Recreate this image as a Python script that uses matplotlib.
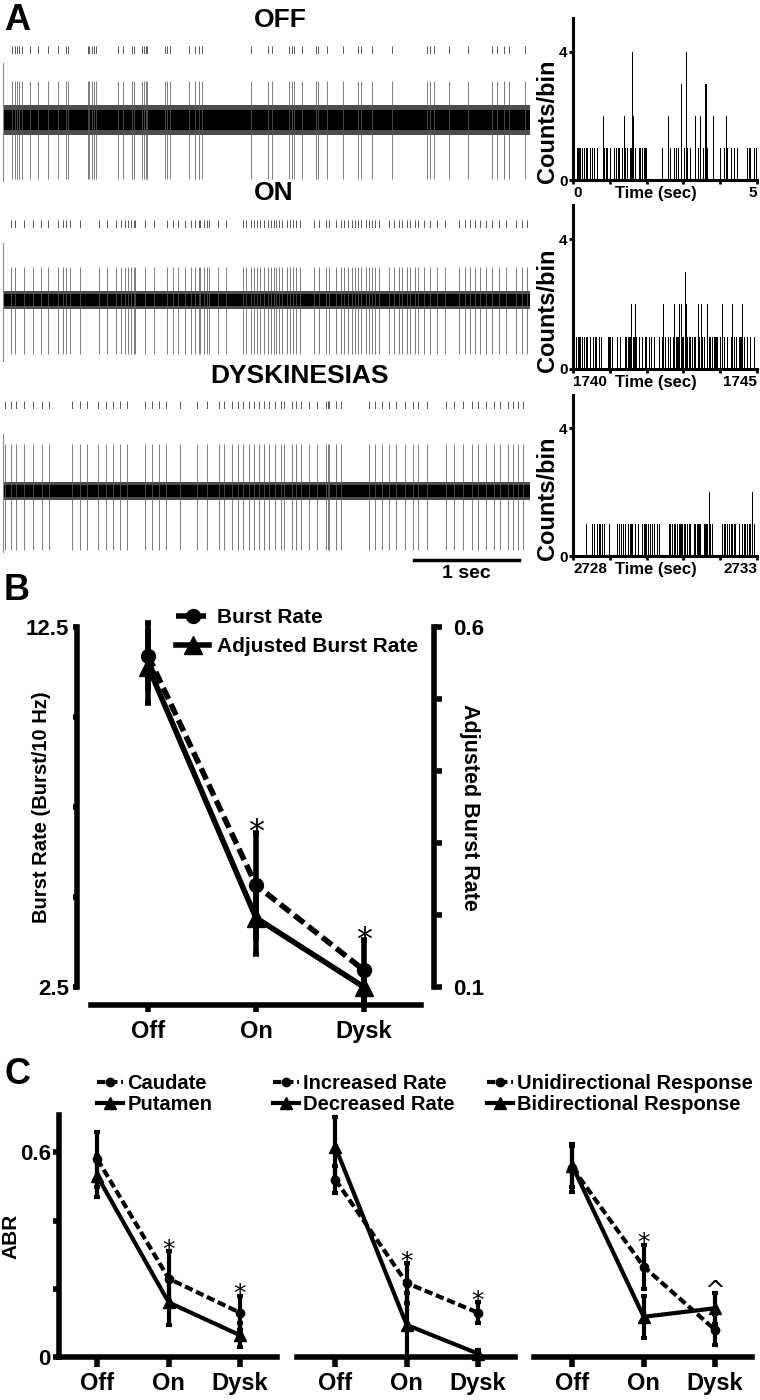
import matplotlib
matplotlib.use('Agg')
import matplotlib.pyplot as plt
import numpy as np
from matplotlib.lines import Line2D

# ---------------- panel A ----------------
# spike times (s)
off_spikes = [0.09, 0.11, 0.13, 0.15, 0.18, 0.26, 0.33, 0.43, 0.52, 0.60, 0.62, 0.81, 0.82, 0.84,
              0.86, 0.88, 1.09, 1.14, 1.22, 1.24, 1.32, 1.34, 1.36, 1.37, 1.54, 1.56, 1.58, 1.76,
              1.82, 1.86, 1.89, 2.35, 2.51, 2.55, 2.71, 2.74, 2.76, 2.84, 2.97, 2.99, 3.07, 3.23,
              3.37, 3.40, 3.50, 3.69, 4.02, 4.05, 4.09, 4.23, 4.41, 4.64, 4.69, 4.75, 4.80, 4.95]
on_spikes = [0.08, 0.11, 0.20, 0.28, 0.36, 0.43, 0.52, 0.57, 0.60, 0.64, 0.73, 0.91, 0.99, 1.07,
             1.12, 1.16, 1.19, 1.21, 1.24, 1.25, 1.35, 1.43, 1.56, 1.61, 1.66, 1.73, 1.78, 1.82,
             1.86, 1.87, 1.91, 1.94, 1.95, 2.04, 2.12, 2.28, 2.31, 2.35, 2.38, 2.41, 2.44, 2.48,
             2.51, 2.54, 2.57, 2.59, 2.62, 2.65, 2.69, 2.72, 2.75, 2.78, 2.82, 2.95, 3.00, 3.06,
             3.09, 3.16, 3.21, 3.24, 3.27, 3.31, 3.34, 3.37, 3.40, 3.44, 3.47, 3.50, 3.53, 3.57,
             3.66, 3.71, 3.76, 3.79, 3.83, 3.86, 3.91, 3.94, 3.99, 4.05, 4.12, 4.19, 4.33, 4.38,
             4.43, 4.48, 4.53, 4.58, 4.64, 4.71, 4.77, 4.87, 4.92, 4.97]
dysk_spikes = [0.02, 0.08, 0.12, 0.20, 0.28, 0.37, 0.44, 0.65, 0.73, 0.80, 0.90, 0.98, 1.04, 1.11,
               1.18, 1.35, 1.41, 1.48, 1.55, 1.68, 1.84, 1.94, 2.05, 2.10, 2.17, 2.23, 2.28, 2.33,
               2.38, 2.43, 2.48, 2.52, 2.58, 2.64, 2.67, 2.74, 2.78, 2.83, 2.90, 2.98, 3.06, 3.08,
               3.09, 3.16, 3.21, 3.47, 3.53, 3.60, 3.66, 3.73, 3.81, 3.89, 3.94, 4.02, 4.20, 4.28,
               4.36, 4.45, 4.51, 4.58, 4.66, 4.72, 4.79, 4.84, 4.89, 4.93]

# PSTH bins (s from window start), grouped by count per bin
off_t0 = 0
off_hist_1 = [0.11, 0.14, 0.17, 0.20, 0.24, 0.29, 0.34, 0.38, 0.45, 0.52, 0.58, 0.65, 0.85, 0.89,
              0.91, 1.00, 1.12, 1.17, 1.21, 1.26, 1.33, 1.42, 1.47, 1.56, 1.69, 1.78, 1.83, 1.88,
              1.92, 1.97, 2.42, 2.64, 2.75, 2.80, 2.84, 3.01, 3.10, 3.19, 3.39, 3.53, 3.64, 4.00,
              4.11, 4.18, 4.28, 4.37, 4.46, 4.73, 4.77, 4.82, 4.91, 4.98]
off_hist_2 = [0.82, 1.38, 1.63, 2.57, 3.32, 3.46, 3.80, 4.15]
off_hist_3 = [2.93, 3.60]
off_hist_4 = [1.60, 3.06]

on_t0 = 1740
on_hist_1 = [0.09, 0.13, 0.16, 0.20, 0.24, 0.29, 0.34, 0.38, 0.47, 0.54, 0.61, 0.70, 0.76, 0.94,
             0.98, 1.01, 1.05, 1.20, 1.27, 1.41, 1.45, 1.49, 1.52, 1.56, 1.63, 1.67, 1.72, 1.78,
             1.88, 1.97, 2.06, 2.12, 2.21, 2.33, 2.42, 2.51, 2.57, 2.64, 2.72, 2.79, 2.83, 2.86,
             2.96, 2.99, 3.10, 3.14, 3.19, 3.23, 3.28, 3.32, 3.41, 3.51, 3.55, 3.69, 3.73, 3.78,
             3.82, 3.87, 3.91, 4.00, 4.09, 4.18, 4.28, 4.38, 4.44, 4.50, 4.55, 4.64, 4.73, 4.82, 4.91]
on_hist_2 = [1.58, 1.69, 2.45, 2.74, 2.89, 2.93, 3.07, 3.39, 3.48, 3.64, 4.05, 4.32, 4.59]
on_hist_3 = [3.03]

dysk_t0 = 2728
dysk_hist_1 = [0.36, 0.52, 0.58, 0.65, 0.72, 0.79, 0.85, 0.97, 1.20, 1.24, 1.30, 1.36, 1.42, 1.49,
               1.56, 1.60, 1.69, 1.76, 1.88, 1.92, 1.97, 2.03, 2.10, 2.15, 2.21, 2.28, 2.33, 2.60,
               2.64, 2.69, 2.74, 2.78, 2.83, 2.87, 2.92, 2.96, 3.01, 3.05, 3.10, 3.14, 3.19, 3.28,
               3.32, 3.37, 3.41, 3.46, 3.55, 3.60, 3.64, 3.73, 3.78, 4.05, 4.09, 4.14, 4.18, 4.23,
               4.28, 4.32, 4.37, 4.41, 4.50, 4.59, 4.64, 4.68, 4.73, 4.77, 4.82, 4.91]
dysk_hist_2 = [3.69, 4.86]

# ---------------- panel B ----------------
conditions = ['Off', 'On', 'Dysk']
burst_rate = [11.7, 5.33, 2.97]
burst_rate_sem = [0.9, 1.45, 0.83]
adj_burst_rate = [0.545, 0.196, 0.1]
adj_burst_rate_sem = [0.05, 0.05, 0.012]
b_marks = ['', '*', '*']

# ---------------- panel C (ABR) ----------------
caudate = [0.58, 0.23, 0.13]
caudate_sem = [0.08, 0.08, 0.05]
putamen = [0.53, 0.16, 0.064]
putamen_sem = [0.06, 0.066, 0.035]
increased = [0.52, 0.217, 0.13]
increased_sem = [0.04, 0.058, 0.03]
decreased = [0.615, 0.094, 0.01]
decreased_sem = [0.09, 0.094, 0.01]
unidir = [0.555, 0.265, 0.08]
unidir_sem = [0.07, 0.065, 0.045]
bidir = [0.56, 0.118, 0.143]
bidir_sem = [0.06, 0.062, 0.045]
c_marks = [['', '*', '*'], ['', '*', '*'], ['', '*', '^']]

plt.rcParams['font.family'] = ['Liberation Sans', 'DejaVu Sans']
plt.rcParams['font.weight'] = 'bold'
plt.rcParams['axes.labelweight'] = 'bold'

W, H = 760, 1400
fig = plt.figure(figsize=(W / 100, H / 100), dpi=100)


def add_ax(x0, y0, x1, y1):
    return fig.add_axes([x0 / W, 1 - y1 / H, (x1 - x0) / W, (y1 - y0) / H])


def ftext(x, y, s, size, **kw):
    fig.text(x / W, 1 - y / H, s, fontsize=size, ha='center', va='center', **kw)


def star(ax, x, y, m, size, drop):
    # significance mark sitting just above an error bar
    ax.annotate(m, (x, y), xytext=(0, -drop), textcoords='offset points', ha='center',
                va='baseline', fontsize=size, fontweight='normal', family='DejaVu Sans',
                annotation_clip=False)


# panel letters
for letter, y in [('A', 20), ('B', 590), ('C', 1075)]:
    ftext(17, y, letter, 26)

# ---- A: traces, rasters, PSTHs
rows = [('OFF', 280, 20, 50, (60, 180), 0.65, 0.98, 0.17, off_spikes),
        ('ON', 274, 193, 224, (240, 360), 0.55, 0.9, 0.1, on_spikes),
        ('DYSKINESIAS', 300, 376, 405, (431, 551), 0.78, 0.98, 0.1, dysk_spikes)]
for title, tx, ty, ry, box, up, down, band, spikes in rows:
    ftext(tx, ty, title, 19)
    rax = add_ax(3, ry - 4, 530, ry + 4)
    rax.set_xlim(0, 5)
    rax.set_ylim(0, 1)
    rax.axis('off')
    rax.vlines(spikes, 0, 1, color='0.35', lw=0.7)

    tax = add_ax(3, box[0], 530, box[1])
    tax.set_xlim(0, 5)
    tax.set_ylim(-1, 1)
    tax.axis('off')
    tax.fill_between([0, 5], -band * 1.45, band * 1.45, color='0.3', lw=0)
    tax.fill_between([0, 5], -band, band, color='black', lw=0)
    tax.vlines(spikes, -down, up, color='0.35', lw=0.55)
    tax.plot([0, 0], [-1.02, 0.95], color='0.55', lw=0.8, clip_on=False)

# 1 sec scale bar under the last trace
tax.plot([3.9, 4.9], [-1.15, -1.15], color='black', lw=2.5, clip_on=False)
tax.text(4.4, -1.38, '1 sec', fontsize=14, ha='center', va='center')

hists = [((18, 180), off_t0, [(1, off_hist_1), (2, off_hist_2), (3, off_hist_3), (4, off_hist_4)]),
         ((205, 369), on_t0, [(1, on_hist_1), (2, on_hist_2), (3, on_hist_3)]),
         ((395, 556), dysk_t0, [(1, dysk_hist_1), (2, dysk_hist_2)])]
for box, t0, groups in hists:
    hax = add_ax(573, box[0], 757, box[1])
    for n, times in groups:
        hax.bar(t0 + np.array(times), n, width=0.03, align='edge', color='black', lw=0)
    hax.set_xlim(t0, t0 + 5)
    hax.set_ylim(0, 5.05)
    for s in ['top', 'right']:
        hax.spines[s].set_visible(False)
    for s in ['left', 'bottom']:
        hax.spines[s].set_linewidth(2.2)
    hax.set_yticks([0, 4])
    hax.set_xticks(t0 + np.arange(6), [str(t0), '', '', '', '', str(t0 + 5)])
    hax.tick_params(axis='both', length=3, width=2, labelsize=11, pad=1)
    xt = hax.get_xticklabels()
    xt[0].set_ha('left')
    xt[-1].set_ha('right')
    hax.set_ylabel('Counts/bin', fontsize=17)
    hax.yaxis.set_label_coords(-0.075, 0.36)
    hax.text(0.45, -0.085, 'Time (sec)', transform=hax.transAxes, fontsize=12,
             ha='center', va='center')

# ---- B: burst rate / adjusted burst rate
x = np.arange(len(conditions))
XL = (-0.53, 2.53)
ax_adj = add_ax(91, 627, 421, 987)
ax_br = add_ax(91, 627, 421, 987)
ax_br.patch.set_visible(False)

ax_adj.errorbar(x, adj_burst_rate, yerr=adj_burst_rate_sem, color='black', lw=4, marker='^',
                ms=13, elinewidth=4, capsize=2.5, capthick=4, clip_on=False)
ax_adj.set_xlim(XL)
ax_adj.set_ylim(0.1, 0.6)
for s in ['top', 'left', 'bottom']:
    ax_adj.spines[s].set_visible(False)
ax_adj.spines['right'].set_position(('outward', 9))
ax_adj.spines['right'].set_linewidth(4)
ax_adj.yaxis.tick_right()
ax_adj.set_xticks([])
ax_adj.set_yticks([0.1, 0.2, 0.3, 0.4, 0.5, 0.6], ['0.1', '', '', '', '', '0.6'])
ax_adj.tick_params(axis='y', length=6, width=4, labelsize=16, pad=8)
ax_adj.set_ylabel('Adjusted Burst Rate', fontsize=15.5, rotation=270, va='center')
ax_adj.yaxis.set_label_position('right')
ax_adj.yaxis.set_label_coords(1.18, 0.5)

ax_br.errorbar(x, burst_rate, yerr=burst_rate_sem, color='black', lw=4, ls=(0, (2.2, 1.0)),
               marker='o', ms=10, elinewidth=4, capsize=2.5, capthick=4, clip_on=False)
ax_br.set_xlim(XL)
ax_br.set_ylim(2.5, 12.5)
for s in ['top', 'right']:
    ax_br.spines[s].set_visible(False)
ax_br.spines['left'].set_position(('outward', 10))
ax_br.spines['bottom'].set_position(('outward', 13))
for s in ['left', 'bottom']:
    ax_br.spines[s].set_linewidth(4)
ax_br.set_yticks([2.5, 5, 7.5, 10, 12.5], ['2.5', '', '', '', '12.5'])
ax_br.set_xticks(x, conditions)
ax_br.tick_params(axis='y', length=3, width=4, labelsize=16, pad=3)
ax_br.tick_params(axis='x', length=5, width=4, labelsize=17, pad=6)
ax_br.set_ylabel('Burst Rate (Burst/10 Hz)', fontsize=14.5)
ax_br.yaxis.set_label_coords(-0.122, 0.5)
for i, m in enumerate(b_marks):
    if m:
        star(ax_br, i, burst_rate[i] + burst_rate_sem[i], m, 23, 6)

hb1 = Line2D([], [], color='black', lw=4, ls=(0, (2.2, 1.0)), marker='o', ms=10)
hb2 = Line2D([], [], color='black', lw=4, marker='^', ms=13)
fig.legend([hb1, hb2], ['Burst Rate', 'Adjusted Burst Rate'], loc='upper left',
           bbox_to_anchor=(176 / W, 1 - 608 / H), frameon=False, fontsize=15,
           handlelength=1.6, handletextpad=0.35, labelspacing=0.5, borderpad=0,
           borderaxespad=0)

# ---- C: ABR by subgroup
c_sets = [(caudate, caudate_sem, putamen, putamen_sem, 'Caudate', 'Putamen', 59, 97),
          (increased, increased_sem, decreased, decreased_sem,
           'Increased Rate', 'Decreased Rate', 297, 273),
          (unidir, unidir_sem, bidir, bidir_sem,
           'Unidirectional Response', 'Bidirectional Response', 534, 487)]
DASH = (0, (2.0, 0.9))
for k, (a, a_sem, b, b_sem, la, lb, x0, lx) in enumerate(c_sets):
    ax = add_ax(x0, 1115, x0 + 218, 1357)
    ax.errorbar(x, b, yerr=b_sem, color='black', lw=3, marker='^', ms=9, elinewidth=3,
                capsize=2, capthick=3, clip_on=False)
    ax.errorbar(x, a, yerr=a_sem, color='black', lw=3, ls=DASH, marker='o', ms=6,
                elinewidth=3, capsize=2, capthick=3, clip_on=False)
    ax.set_xlim(-0.54, 2.52)
    ax.set_ylim(0, 0.71)
    for s in ['top', 'right']:
        ax.spines[s].set_visible(False)
    ax.spines['bottom'].set_linewidth(4)
    ax.set_xticks(x, conditions)
    ax.tick_params(axis='x', length=7, width=4, labelsize=17, pad=4)
    if k == 0:
        ax.spines['left'].set_linewidth(4)
        ax.set_yticks([0, 0.2, 0.4, 0.6], ['0', '', '', '0.6'])
        ax.tick_params(axis='y', length=4, width=4, labelsize=16, pad=2)
        ax.set_ylabel('ABR', fontsize=15)
        ax.yaxis.set_label_coords(-0.175, 0.5)
    else:
        ax.spines['left'].set_visible(False)
        ax.set_yticks([])
    for i, m in enumerate(c_marks[k]):
        if m:
            top = max(a[i] + a_sem[i], b[i] + b_sem[i])
            star(ax, i, top, m, 18, 4)
    ha_ = Line2D([], [], color='black', lw=3, ls=DASH, marker='o', ms=6)
    hb_ = Line2D([], [], color='black', lw=3, marker='^', ms=9)
    fig.legend([ha_, hb_], [la, lb], loc='upper left', bbox_to_anchor=(lx / W, 1 - 1074 / H),
               frameon=False, fontsize=14.5, handlelength=1.3, handletextpad=0.2,
               labelspacing=0.12, borderpad=0, borderaxespad=0)

fig.savefig('out.png', dpi=100)
